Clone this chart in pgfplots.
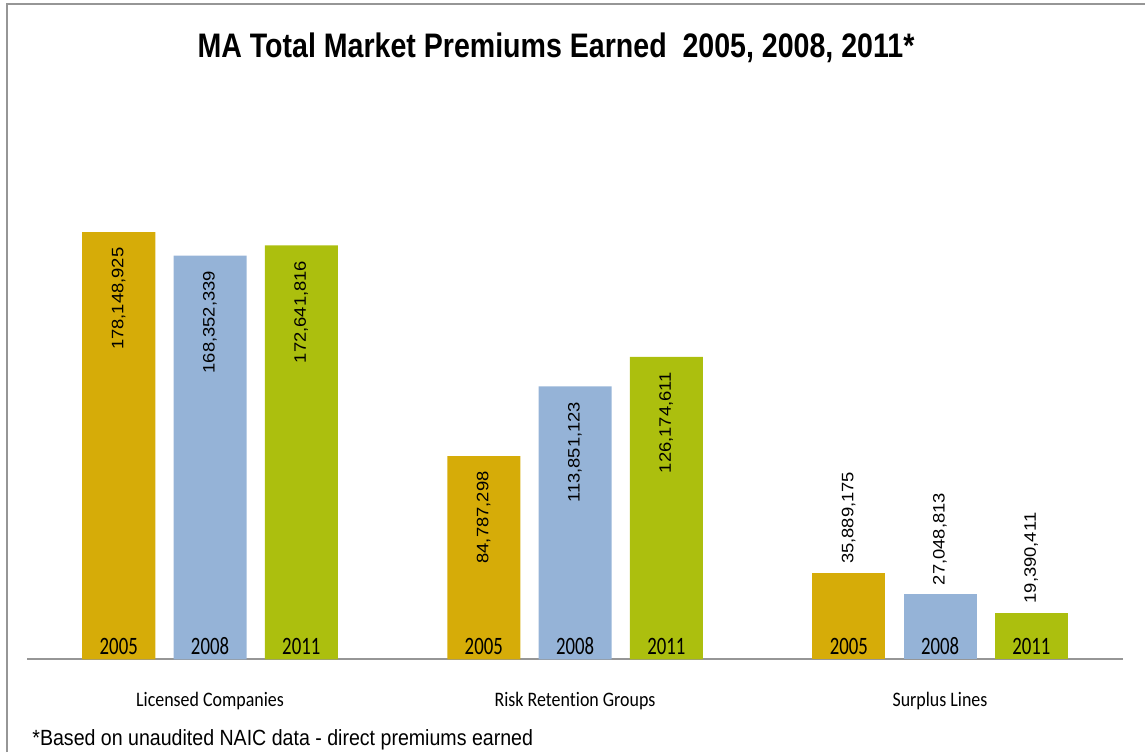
\documentclass[border=0pt]{standalone}
\usepackage{pgfplots}
\pgfplotsset{compat=1.18}
\usepackage{pgfplotstable}
\usepackage{fontspec}
\setmainfont{Liberation Sans}
\newfontfamily\calfont[Ligatures=NoCommon]{Carlito}
\definecolor{gold}{RGB}{214,172,8}
\definecolor{lblue}{RGB}{149,179,215}
\definecolor{olive}{RGB}{172,191,14}
\definecolor{frame}{RGB}{150,150,150}

% values in millions
\pgfplotstableread{
x y label
0 178.148925 178,148,925
1 84.787298 84,787,298
2 35.889175 35,889,175
}\yrfive
\pgfplotstableread{
x y label
0 168.352339 168,352,339
1 113.851123 113,851,123
2 27.048813 27,048,813
}\yreight
\pgfplotstableread{
x y label
0 172.641816 172,641,816
1 126.174611 126,174,611
2 19.390411 19,390,411
}\yreleven

\newcommand{\yr}[1]{\scalebox{0.75}[1]{#1}}
\newcommand{\cat}[1]{\scalebox{0.87}[1]{#1}}
\tikzset{yearlbl/.style={anchor=base, font=\calfont\fontsize{12.5}{14}\selectfont, yshift=2.5pt}}
\pgfplotsset{
  inlbl/.style={skip coords between index={2}{3},
    every node near coord/.append style={font=\fontsize{9.2}{11}\selectfont, inner sep=0pt,
      yshift=-7.5pt, rotate=90, anchor=east, text=black}},
  outlbl/.style={skip coords between index={0}{2}, forget plot,
    every node near coord/.append style={font=\fontsize{9.2}{11}\selectfont, inner sep=0pt,
      yshift=4.5pt, rotate=90, anchor=west, text=black}},
}

\begin{document}
\begin{tikzpicture}
\path[use as bounding box] (0,0) rectangle (572.5pt,376pt);
\draw[frame, line width=1pt] (3.5pt,0) -- (3.5pt,374pt) -- (572.5pt,374pt);
\node[anchor=base, font=\bfseries\fontsize{17}{20}\selectfont] at (278pt,347.4pt)
  {\scalebox{0.84}[1]{MA Total Market Premiums Earned\ \ 2005, 2008, 2011*}};
\node[anchor=base west, inner sep=0pt, font=\fontsize{11}{13}\selectfont] at (16pt,3.5pt)
  {\scalebox{0.89}[1]{*Based on unaudited NAIC data - direct premiums earned}};
\begin{axis}[
    at={(13.75pt,46.35pt)}, anchor=south west,
    scale only axis, width=547.5pt, height=263.7pt,
    ymin=0, ymax=220, xmin=-0.5, xmax=2.5,
    axis y line=none, axis x line*=bottom,
    axis line style={draw=frame, line width=0.9pt},
    xtick={0,1,2}, xtick style={draw=none},
    xticklabels={\cat{Licensed Companies}, \cat{Risk Retention Groups}, \cat{Surplus Lines}},
    xticklabel style={font=\calfont\fontsize{10.3}{12}\selectfont, anchor=base, yshift=-19.5pt},
    ybar, bar width=36.5pt, clip=false,
    point meta=explicit symbolic,
    nodes near coords={\scalebox{1}[0.9]{\pgfplotspointmeta}},
  ]
  \addplot[fill=gold, draw=none, bar shift=-45.625pt, inlbl] table[x=x, y=y, meta=label] {\yrfive};
  \addplot[fill=gold, draw=none, bar shift=-45.625pt, outlbl] table[x=x, y=y, meta=label] {\yrfive};
  \addplot[fill=lblue, draw=none, bar shift=0pt, inlbl] table[x=x, y=y, meta=label] {\yreight};
  \addplot[fill=lblue, draw=none, bar shift=0pt, outlbl] table[x=x, y=y, meta=label] {\yreight};
  \addplot[fill=olive, draw=none, bar shift=45.625pt, inlbl] table[x=x, y=y, meta=label] {\yreleven};
  \addplot[fill=olive, draw=none, bar shift=45.625pt, outlbl] table[x=x, y=y, meta=label] {\yreleven};
  \node[yearlbl] at (axis cs:-0.25,0) {\yr{2005}};
  \node[yearlbl] at (axis cs:0,0) {\yr{2008}};
  \node[yearlbl] at (axis cs:0.25,0) {\yr{2011}};
  \node[yearlbl] at (axis cs:0.75,0) {\yr{2005}};
  \node[yearlbl] at (axis cs:1,0) {\yr{2008}};
  \node[yearlbl] at (axis cs:1.25,0) {\yr{2011}};
  \node[yearlbl] at (axis cs:1.75,0) {\yr{2005}};
  \node[yearlbl] at (axis cs:2,0) {\yr{2008}};
  \node[yearlbl] at (axis cs:2.25,0) {\yr{2011}};
\end{axis}
\end{tikzpicture}
\end{document}
